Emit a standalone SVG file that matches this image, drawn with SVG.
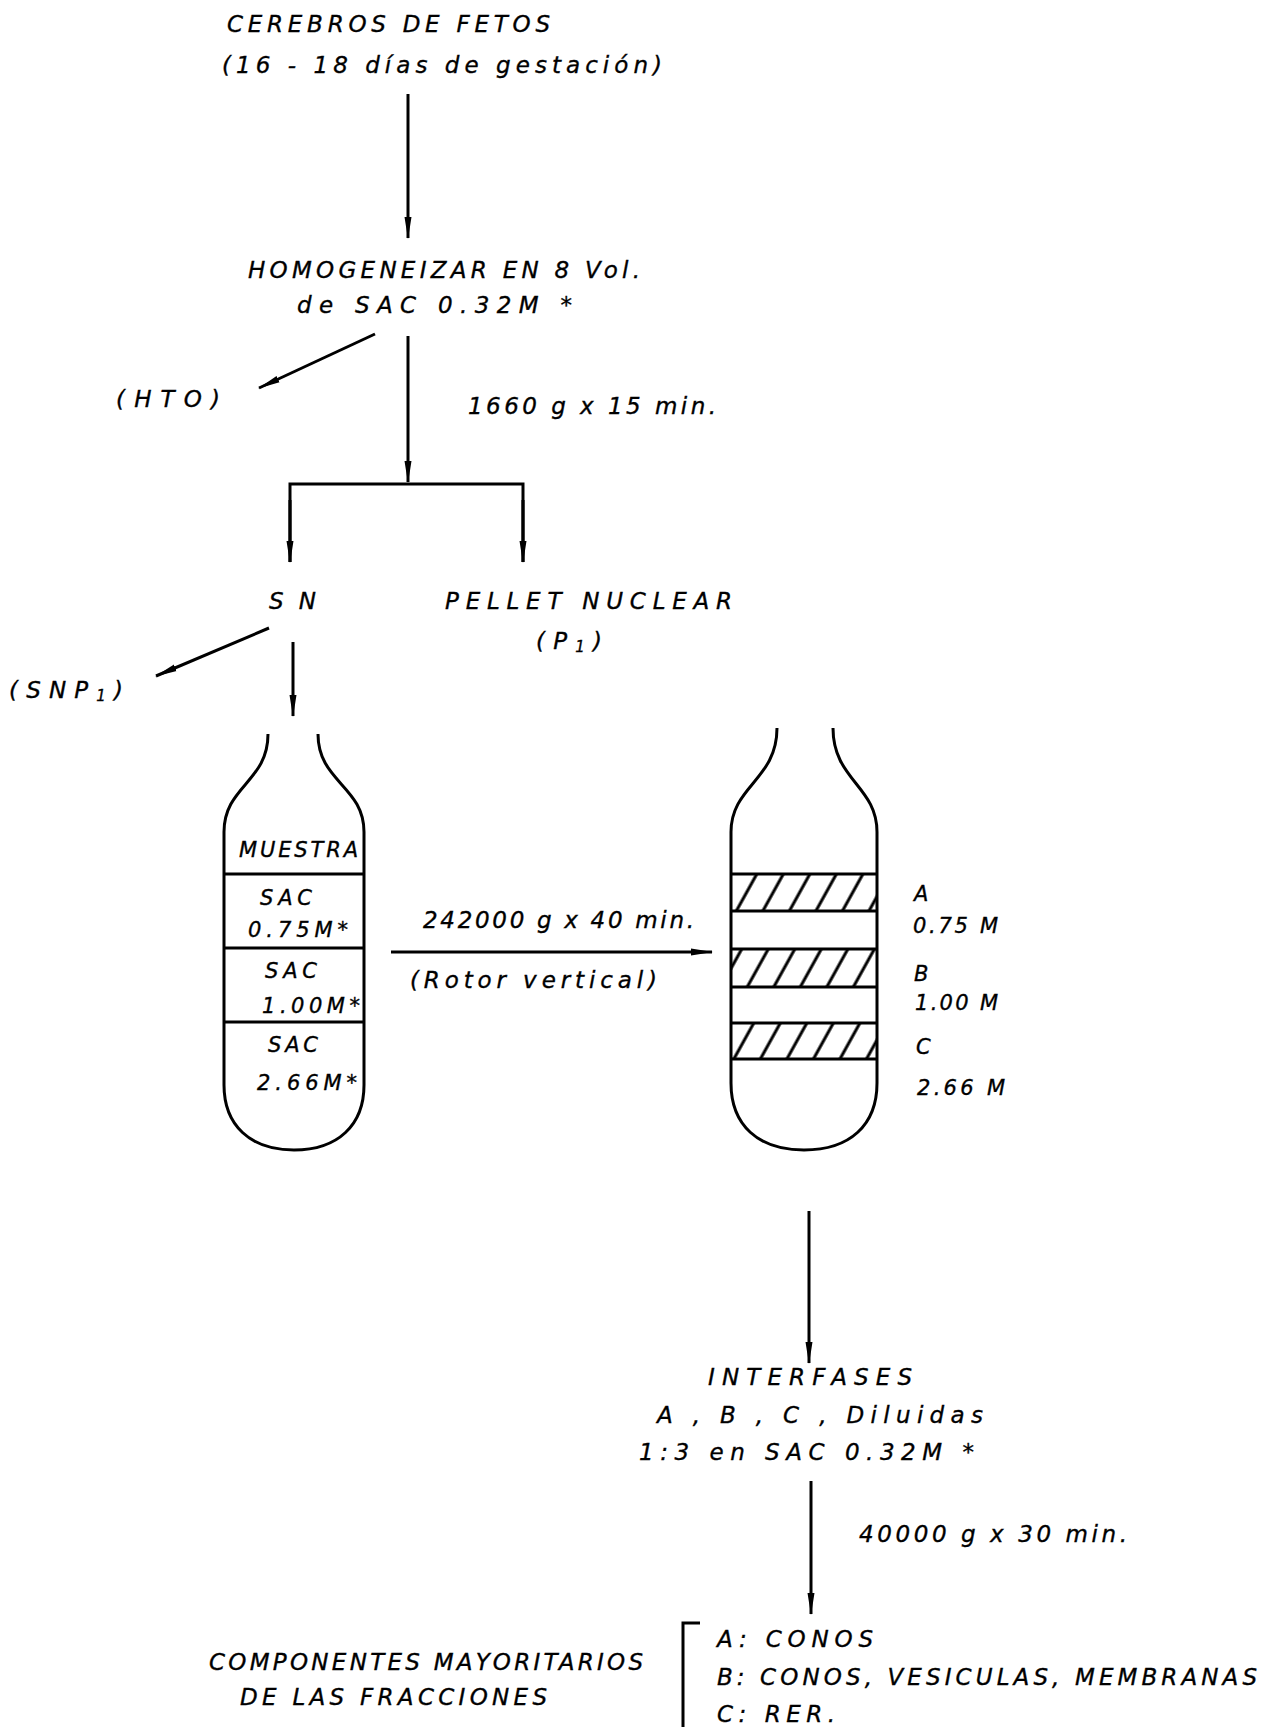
<svg xmlns="http://www.w3.org/2000/svg" width="1265" height="1727" viewBox="0 0 1265 1727">
<style>
text{font-family:"DejaVu Sans","Liberation Sans",sans-serif;font-style:italic;font-size:23px;fill:#000;stroke:#000;stroke-width:0.35}
.s{font-size:21px}
.ln{stroke:#000;stroke-width:3;fill:none}
.tube{stroke:#000;stroke-width:3;fill:none}
</style>
<defs>
<marker id="ah" markerUnits="userSpaceOnUse" markerWidth="22" markerHeight="10" refX="21" refY="5" orient="auto">
<path d="M0,1.5 L22,5 L0,8.5 z" fill="#000"/>
</marker>
<pattern id="hatch" width="23.2" height="40" patternUnits="userSpaceOnUse" patternTransform="translate(735,0) rotate(29)">
<line x1="2" y1="-5" x2="2" y2="45" stroke="#000" stroke-width="3"/>
</pattern>
</defs>
<rect width="1265" height="1727" fill="#fff"/>

<g id="connectors">
<line class="ln" x1="408" y1="94" x2="408" y2="238" marker-end="url(#ah)"/>
<line class="ln" x1="408" y1="336" x2="408" y2="482" marker-end="url(#ah)"/>
<line class="ln" x1="375" y1="334" x2="259" y2="388" marker-end="url(#ah)"/>
<path class="ln" d="M290 562 L290 484 L523 484 L523 562"/>
<line class="ln" x1="290" y1="500" x2="290" y2="562" marker-end="url(#ah)"/>
<line class="ln" x1="523" y1="500" x2="523" y2="562" marker-end="url(#ah)"/>
<line class="ln" x1="269" y1="628" x2="156" y2="676" marker-end="url(#ah)"/>
<line class="ln" x1="293" y1="642" x2="293" y2="716" marker-end="url(#ah)"/>
<line class="ln" x1="391" y1="952" x2="712" y2="952" marker-end="url(#ah)"/>
<line class="ln" x1="809" y1="1211" x2="809" y2="1363" marker-end="url(#ah)"/>
<line class="ln" x1="811" y1="1481" x2="811" y2="1614" marker-end="url(#ah)"/>
<path class="ln" d="M700 1623 L683 1623 L683 1727"/>
</g>

<g id="n-cerebros">
<text x="227" y="32" textLength="323" lengthAdjust="spacing">CEREBROS DE FETOS</text>
<text x="222" y="73" textLength="440" lengthAdjust="spacing">(16 - 18 días de gestación)</text>
</g>
<g id="n-homogeneizar">
<text x="248" y="278" textLength="392" lengthAdjust="spacing">HOMOGENEIZAR EN 8 Vol.</text>
<text x="297" y="313" textLength="275" lengthAdjust="spacing">de SAC 0.32M *</text>
</g>
<g id="n-hto"><text x="116" y="407" textLength="104" lengthAdjust="spacing">(HTO)</text></g>
<g id="l-1660"><text x="468" y="414" textLength="248" lengthAdjust="spacing">1660 g x 15 min.</text></g>
<g id="n-sn"><text x="269" y="609" textLength="47" lengthAdjust="spacing">SN</text></g>
<g id="n-pellet">
<text x="445" y="609" textLength="287" lengthAdjust="spacing">PELLET NUCLEAR</text>
<text x="536" y="649" textLength="66" lengthAdjust="spacing">(P<tspan font-size="15" dy="3">1</tspan><tspan dy="-3">)</tspan></text>
</g>
<g id="n-snp1"><text x="9" y="698" textLength="114" lengthAdjust="spacing">(SNP<tspan font-size="15" dy="3">1</tspan><tspan dy="-3">)</tspan></text></g>

<g id="n-tube1">
<path class="tube" d="M268 734 C268 782 224 786 224 832 L224 1085 C224 1125 250 1150 294 1150 C338 1150 364 1125 364 1085 L364 832 C364 786 318 782 318 734"/>
<line class="ln" x1="224" y1="874" x2="364" y2="874"/>
<line class="ln" x1="224" y1="948" x2="364" y2="948"/>
<line class="ln" x1="224" y1="1022" x2="364" y2="1022"/>
<text class="s" x="239" y="857" textLength="119" lengthAdjust="spacing">MUESTRA</text>
<text class="s" x="260" y="905" textLength="52" lengthAdjust="spacing">SAC</text>
<text class="s" x="248" y="937" textLength="100" lengthAdjust="spacing">0.75M*</text>
<text class="s" x="265" y="978" textLength="52" lengthAdjust="spacing">SAC</text>
<text class="s" x="262" y="1013" textLength="98" lengthAdjust="spacing">1.00M*</text>
<text class="s" x="268" y="1052" textLength="50" lengthAdjust="spacing">SAC</text>
<text class="s" x="257" y="1090" textLength="100" lengthAdjust="spacing">2.66M*</text>
</g>

<g id="l-242000">
<text x="423" y="928" textLength="271" lengthAdjust="spacing">242000 g x 40 min.</text>
<text x="410" y="988" textLength="247" lengthAdjust="spacing">(Rotor vertical)</text>
</g>

<g id="n-tube2">
<rect x="731" y="874" width="146" height="37" fill="url(#hatch)"/>
<rect x="731" y="949" width="146" height="38" fill="url(#hatch)"/>
<rect x="731" y="1023" width="146" height="36" fill="url(#hatch)"/>
<path class="tube" d="M777 728 C777 780 731 786 731 832 L731 1083 C731 1125 758 1150 804 1150 C850 1150 877 1125 877 1083 L877 832 C877 786 833 780 833 728"/>
<line class="ln" x1="731" y1="874" x2="877" y2="874"/>
<line class="ln" x1="731" y1="911" x2="877" y2="911"/>
<line class="ln" x1="731" y1="949" x2="877" y2="949"/>
<line class="ln" x1="731" y1="987" x2="877" y2="987"/>
<line class="ln" x1="731" y1="1023" x2="877" y2="1023"/>
<line class="ln" x1="731" y1="1059" x2="877" y2="1059"/>
<text class="s" x="914" y="901">A</text>
<text class="s" x="913" y="933" textLength="85" lengthAdjust="spacing">0.75 M</text>
<text class="s" x="914" y="981">B</text>
<text class="s" x="915" y="1010" textLength="83" lengthAdjust="spacing">1.00 M</text>
<text class="s" x="916" y="1054">C</text>
<text class="s" x="917" y="1095" textLength="88" lengthAdjust="spacing">2.66 M</text>
</g>

<g id="n-interfases">
<text x="708" y="1385" textLength="204" lengthAdjust="spacing">INTERFASES</text>
<text x="657" y="1423" textLength="326" lengthAdjust="spacing">A , B , C , Diluidas</text>
<text x="639" y="1460" textLength="335" lengthAdjust="spacing">1:3 en SAC 0.32M *</text>
</g>
<g id="l-40000"><text x="859" y="1542" textLength="268" lengthAdjust="spacing">40000 g x 30 min.</text></g>

<g id="n-componentes">
<text x="209" y="1670" textLength="434" lengthAdjust="spacing">COMPONENTES MAYORITARIOS</text>
<text x="240" y="1705" textLength="307" lengthAdjust="spacing">DE LAS FRACCIONES</text>
</g>
<g id="n-fracciones">
<text x="717" y="1647" textLength="156" lengthAdjust="spacing">A: CONOS</text>
<text x="717" y="1685" textLength="540" lengthAdjust="spacing">B: CONOS, VESICULAS, MEMBRANAS</text>
<text x="717" y="1722" textLength="118" lengthAdjust="spacing">C: RER.</text>
</g>
</svg>
